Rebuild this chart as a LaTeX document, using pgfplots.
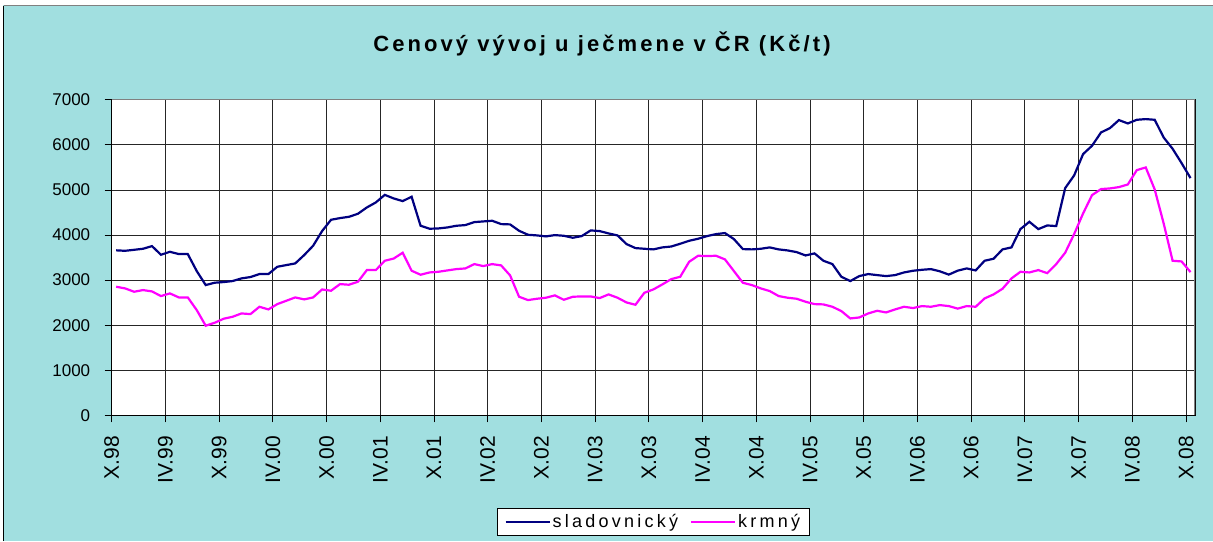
\documentclass[border=0pt]{standalone}
\usepackage{fontspec}
\setmainfont{Liberation Sans}
\newfontfamily\titlefont{Liberation Sans}[LetterSpace=14]
\newfontfamily\legfont{Liberation Sans}[LetterSpace=18]
\usepackage{pgfplots}
\pgfplotsset{compat=1.18}
\usepackage{pgfplotstable}

\definecolor{bgcyan}{RGB}{161,223,224}
\definecolor{slad}{RGB}{0,0,128}
\definecolor{krm}{RGB}{255,0,255}

% monthly prices, X.98 .. X.08 (index = month)
\pgfplotstableread{
i s k
0 3660 2853
1 3650 2816
2 3672 2742
3 3695 2779
4 3754 2749
5 3562 2646
6 3628 2705
7 3577 2616
8 3577 2616
9 3200 2335
10 2890 1988
11 2942 2054
12 2957 2143
13 2979 2187
14 3038 2261
15 3068 2246
16 3134 2409
17 3134 2350
18 3296 2468
19 3333 2542
20 3370 2616
21 3555 2572
22 3762 2616
23 4087 2793
24 4338 2764
25 4375 2912
26 4404 2897
27 4471 2963
28 4611 3222
29 4722 3222
30 4890 3429
31 4811 3478
32 4752 3607
33 4848 3208
34 4205 3119
35 4139 3170
36 4146 3185
37 4168 3215
38 4205 3244
39 4220 3259
40 4286 3355
41 4301 3311
42 4316 3355
43 4242 3326
44 4235 3104
45 4094 2631
46 4005 2557
47 3991 2587
48 3969 2609
49 3998 2661
50 3983 2564
51 3939 2631
52 3976 2638
53 4102 2638
54 4087 2601
55 4035 2683
56 3991 2609
57 3799 2505
58 3710 2453
59 3695 2720
60 3681 2793
61 3725 2904
62 3745 3022
63 3806 3074
64 3872 3407
65 3917 3540
66 3976 3533
67 4020 3540
68 4043 3459
69 3909 3200
70 3688 2941
71 3681 2890
72 3695 2816
73 3725 2757
74 3681 2646
75 3658 2609
76 3621 2587
77 3547 2520
78 3592 2468
79 3429 2461
80 3355 2409
81 3074 2313
82 2979 2150
83 3089 2172
84 3134 2261
85 3111 2320
86 3089 2283
87 3111 2350
88 3170 2409
89 3207 2380
90 3229 2424
91 3244 2409
92 3195 2446
93 3122 2424
94 3210 2368
95 3259 2424
96 3215 2409
97 3429 2594
98 3474 2683
99 3681 2808
100 3725 3037
101 4131 3185
102 4293 3170
103 4131 3222
104 4212 3155
105 4198 3355
106 5040 3607
107 5321 4020
108 5794 4478
109 5979 4885
110 6274 5018
111 6370 5033
112 6548 5062
113 6474 5121
114 6555 5439
115 6570 5498
116 6555 5010
117 6163 4257
118 5912 3429
119 5595 3414
120 5262 3178
}\ceny

\begin{document}
\begin{tikzpicture}
\useasboundingbox (0,0) rectangle (1213pt,-541pt);
\fill[white] (0,0) rectangle (1213pt,-541pt);
\fill[bgcyan] (3pt,-5pt) rectangle (1213pt,-541pt);
\draw[black, line width=1pt] (3.5pt,-541pt) -- (3.5pt,-5.5pt);
\draw[gray, line width=1pt] (3.5pt,-5.5pt) -- (1213pt,-5.5pt);

\node[anchor=base] at (602pt,-51.7pt) {\fontsize{22}{26}\selectfont\titlefont\bfseries Cenový vývoj u ječmene v ČR (Kč/t)};

\begin{axis}[
    at={(111.7pt,-415.4pt)}, anchor=south west,
    scale only axis,
    width=1083.3pt, height=315.7pt,
    xmin=-0.5, xmax=120.5,
    ymin=0, ymax=7000,
    xtick={-0.5,5.5,...,119.5},
    xticklabels={X.98,IV.99,X.99,IV.00,X.00,IV.01,X.01,IV.02,X.02,IV.03,X.03,IV.04,X.04,IV.05,X.05,IV.06,X.06,IV.07,X.07,IV.08,X.08},
    ytick={0,1000,...,7000},
    scaled y ticks=false,
    yticklabel style={/pgf/number format/1000 sep={}, /pgf/number format/assume math mode=true, font=\fontsize{17}{20}\selectfont},
    yticklabel shift=11pt,
    xticklabel style={rotate=90, anchor=east, font=\fontsize{21}{25}\selectfont},
    xticklabel shift=10pt,
    xtick pos=bottom, ytick pos=left,
    tick align=outside,
    major tick length=7pt,
    tick style={black, line width=0.8pt},
    grid=major,
    major grid style={black!85, line width=0.8pt},
    axis line style={black, line width=1pt},
    axis background/.style={fill=white},
    legend columns=2,
    legend style={at={(0.5,-0.2933)}, anchor=north, draw=black, fill=white,
        line width=0.8pt, font=\fontsize{18}{21}\selectfont\legfont,
        inner xsep=7pt, inner ysep=4pt,
        /tikz/every even column/.append style={column sep=10pt}},
    legend image code/.code={\draw[#1, line width=2pt] (0pt,0pt) -- (44pt,0pt);},
]
\addplot[slad, line width=2.2pt] table[x=i, y=s] {\ceny};
\addplot[krm, line width=2.2pt] table[x=i, y=k] {\ceny};
\draw[gray, line width=1.5pt] (rel axis cs:0,1) -- (rel axis cs:1,1) -- (rel axis cs:1,0);
\legend{sladovnický, krmný}
\end{axis}
\end{tikzpicture}
\end{document}
